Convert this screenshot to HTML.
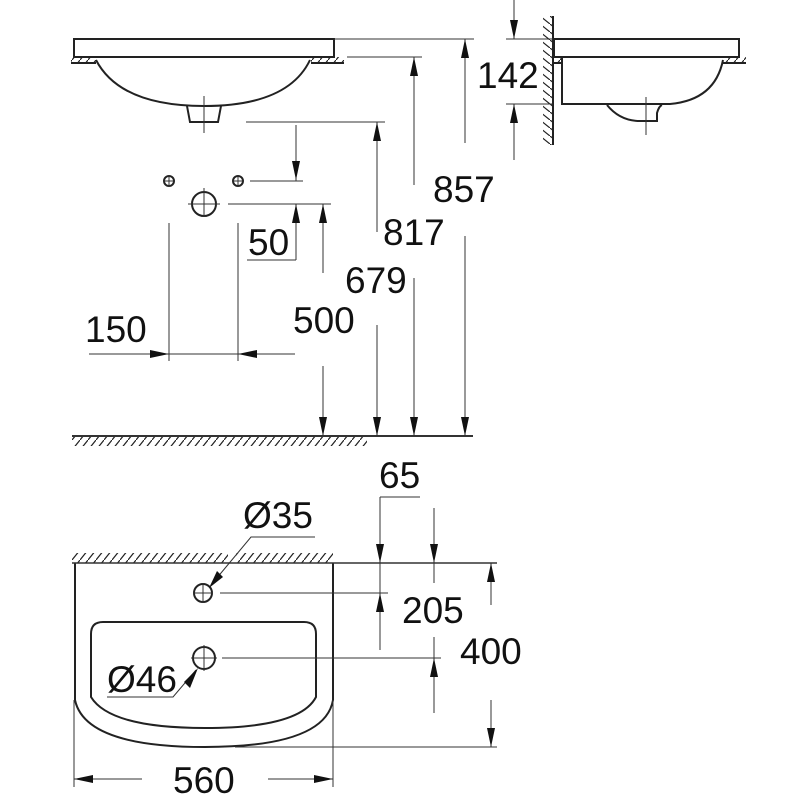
<!DOCTYPE html>
<html><head><meta charset="utf-8"><style>
html,body{margin:0;padding:0;background:#fff;width:800px;height:800px;overflow:hidden}
text{font-family:"Liberation Sans",sans-serif;font-size:37px;fill:#111}
</style></head><body>
<svg width="800" height="800" viewBox="0 0 800 800" xmlns="http://www.w3.org/2000/svg">
<defs>
<pattern id="h" width="8" height="10" patternUnits="userSpaceOnUse"><line x1="0" y1="10" x2="8" y2="0" stroke="#222" stroke-width="1.2"/></pattern>
<pattern id="hv" width="10" height="8" patternUnits="userSpaceOnUse"><line x1="0" y1="0" x2="10" y2="8" stroke="#222" stroke-width="1.2"/></pattern>
</defs>
<g fill="none" stroke="#222" stroke-width="2">
<rect x="74" y="39" width="260" height="18"/>
<path d="M96 60 Q120 106 204 106 Q288 106 310 60"/>
<path d="M187 106 L190 122 L218 122 L221 106"/>
<line x1="71" y1="63" x2="96" y2="63"/><line x1="311" y1="63" x2="344" y2="63"/>
<rect x="554" y="39" width="185" height="18"/>
<path d="M562 57 L562 104 L670 104 Q715 100 723 60"/>
<path d="M607 105 Q620 121 640 121 L657 121 L657 113 Q659 106 662 105"/>
<line x1="553" y1="16" x2="553" y2="145"/>
<line x1="554" y1="63" x2="562" y2="63"/><line x1="722" y1="63" x2="746" y2="63"/>
<path d="M75 563 L75 700 Q85 747 205 747 Q325 747 333 700 L333 563"/>
<path d="M103 622 L304 622 Q316 622 316 634 L316 697 Q300 728 205 728 Q110 728 91 697 L91 634 Q91 622 103 622 Z"/>
<circle cx="203" cy="593" r="9"/><circle cx="204" cy="658" r="11"/>
<circle cx="204" cy="204" r="12"/>
<circle cx="169" cy="181" r="5"/><circle cx="238" cy="181" r="5"/>
</g>
<g fill="url(#h)" stroke="none">
<rect x="71" y="57" width="25" height="6"/><rect x="311" y="57" width="33" height="6"/>
<rect x="555" y="57" width="7" height="6"/><rect x="723" y="57" width="23" height="6"/>
<rect x="72" y="437" width="295" height="9"/>
<rect x="72" y="553" width="156" height="10"/><rect x="236" y="553" width="97" height="10"/>
</g>
<rect x="543" y="16" width="10" height="129" fill="url(#hv)"/>
<g fill="none" stroke="#333" stroke-width="1">
<line x1="204" y1="96" x2="204" y2="133"/><line x1="646" y1="97" x2="646" y2="135"/>
<line x1="163" y1="181" x2="175" y2="181"/><line x1="169" y1="175" x2="169" y2="187"/>
<line x1="232" y1="181" x2="244" y2="181"/><line x1="238" y1="175" x2="238" y2="187"/>
<line x1="188" y1="204" x2="220" y2="204"/><line x1="204" y1="188" x2="204" y2="217"/>
<line x1="193" y1="593" x2="213" y2="593"/><line x1="203" y1="583" x2="203" y2="603"/>
<line x1="191" y1="658" x2="217" y2="658"/><line x1="204" y1="645" x2="204" y2="671"/>
<line x1="334" y1="39" x2="474" y2="39"/><line x1="347" y1="57" x2="422" y2="57"/>
<line x1="246" y1="122" x2="385" y2="122"/>
<line x1="250" y1="181" x2="303" y2="181"/><line x1="228" y1="204" x2="331" y2="204"/>
<line x1="506" y1="39" x2="553" y2="39"/><line x1="506" y1="104" x2="553" y2="104"/>
<line x1="169" y1="223" x2="169" y2="361"/><line x1="238" y1="223" x2="238" y2="361"/>
<line x1="89" y1="354" x2="295" y2="354"/>
<line x1="72" y1="436" x2="473" y2="436" stroke-width="2"/>
<line x1="465" y1="39" x2="465" y2="143"/><line x1="465" y1="236" x2="465" y2="437"/>
<line x1="414" y1="57" x2="414" y2="185"/><line x1="414" y1="278" x2="414" y2="437"/>
<line x1="377" y1="122" x2="377" y2="232"/><line x1="377" y1="325" x2="377" y2="437"/>
<line x1="323" y1="204" x2="323" y2="273"/><line x1="323" y1="366" x2="323" y2="437"/>
<line x1="296" y1="125" x2="296" y2="181"/><line x1="296" y1="204" x2="296" y2="260"/>
<line x1="247" y1="260" x2="296" y2="260"/>
<line x1="514" y1="0" x2="514" y2="39"/><line x1="514" y1="104" x2="514" y2="160"/>
<line x1="72" y1="563" x2="497" y2="563" stroke-width="1.5"/>
<line x1="235" y1="747" x2="497" y2="747"/>
<line x1="220" y1="593" x2="388" y2="593"/><line x1="222" y1="658" x2="441" y2="658"/>
<line x1="380" y1="497" x2="420" y2="497"/>
<line x1="380" y1="497" x2="380" y2="650"/>
<line x1="434" y1="508" x2="434" y2="583"/><line x1="434" y1="637" x2="434" y2="713"/>
<line x1="491" y1="563" x2="491" y2="605"/><line x1="491" y1="700" x2="491" y2="747"/>
<line x1="74" y1="700" x2="74" y2="787"/><line x1="333" y1="700" x2="333" y2="787"/>
<line x1="74" y1="779" x2="142" y2="779"/><line x1="268" y1="779" x2="333" y2="779"/>
<polyline points="211,585 251,537 315,537"/>
<polyline points="196,670 173,697 107,697"/>
</g>
<g fill="#111">
<polygon points="465,39 461,58 469,58"/>
<polygon points="414,57 410,76 418,76"/>
<polygon points="377,122 373,141 381,141"/>
<polygon points="323,204 319,223 327,223"/>
<polygon points="296,204 292,223 300,223"/>
<polygon points="514,104 510,123 518,123"/>
<polygon points="380,593 376,612 384,612"/>
<polygon points="434,658 430,677 438,677"/>
<polygon points="491,563 487,582 495,582"/>
<polygon points="465,436 461,417 469,417"/>
<polygon points="414,436 410,417 418,417"/>
<polygon points="377,436 373,417 381,417"/>
<polygon points="323,436 319,417 327,417"/>
<polygon points="296,180 292,161 300,161"/>
<polygon points="514,39 510,20 518,20"/>
<polygon points="380,563 376,544 384,544"/>
<polygon points="434,563 430,544 438,544"/>
<polygon points="491,747 487,728 495,728"/>
<polygon points="169,354 150,350 150,358"/>
<polygon points="238,354 257,350 257,358"/>
<polygon points="74,779 93,775 93,783"/>
<polygon points="333,779 314,775 314,783"/>
<polygon points="209,588 217,571 223,577"/>
<polygon points="198,668 184,682 190,688"/>
</g>
<text x="433" y="202">857</text>
<text x="383" y="245">817</text>
<text x="345" y="293">679</text>
<text x="293" y="333">500</text>
<text x="85" y="342">150</text>
<text x="248" y="255">50</text>
<text x="477" y="88">142</text>
<text x="379" y="488">65</text>
<text x="243" y="528">Ø35</text>
<text x="402" y="623">205</text>
<text x="460" y="664">400</text>
<text x="107" y="692">Ø46</text>
<text x="173" y="793">560</text>
</svg>
</body></html>
